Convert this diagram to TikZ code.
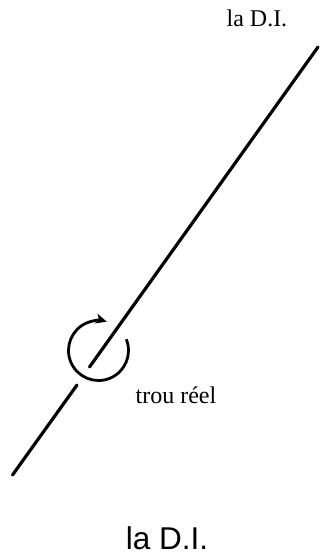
\documentclass[tikz,border=0pt]{standalone}
\usepackage{fontspec}
\setmainfont{Liberation Serif}
\setsansfont{Liberation Sans}
\usetikzlibrary{arrows.meta}
\tikzset{
  every picture/.style={line width=3.2pt},
  axe/.style={draw=black, line cap=round},
  spin/.style={-{Stealth[length=11pt, width=10pt, inset=3pt]}, draw=black, line width=2.8pt},
  lbl/.style={font=\fontsize{24}{28}\selectfont, inner sep=0pt},
  caption/.style={font=\sffamily\fontsize{31.5}{36}\selectfont, inner sep=0pt},
}

\begin{document}
\begin{tikzpicture}[x=1pt, y=-1pt]
  \useasboundingbox (0,0) rectangle (321,555);

  % axis through the hole
  \coordinate (top) at (318,47);
  \coordinate (tip) at (89.5,367);
  \coordinate (back) at (77,385);
  \coordinate (bot) at (12.5,475);
  \coordinate (ring) at (98.5,350.5);

  \draw[axe] (top) -- (tip);
  \draw[axe] (back) -- (bot);

  % turning arrow
  \draw[spin] ([shift={(-22:30)}]ring) arc[start angle=-22, end angle=286, radius=30];

  % labels
  \node[lbl, anchor=base west] (dtop) at (225,26) {la D.I.};
  \node[lbl, anchor=base west] (hole) at (134,403) {trou réel};
  \node[caption, anchor=base] (dbot) at (167,549) {la D.I.};
\end{tikzpicture}
\end{document}
